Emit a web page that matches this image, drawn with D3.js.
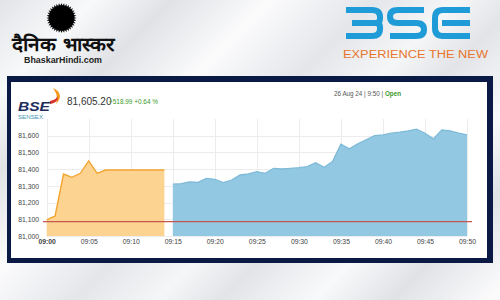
<!DOCTYPE html>
<meta charset="utf-8">
<style>
body { margin: 0; }
svg { display: block; font-family: "Liberation Sans", Arial, sans-serif; }
.tick text { fill: #444; font-size: 6.8px; }
</style>
<svg width="500" height="300"></svg>
<script src="https://cdnjs.cloudflare.com/ajax/libs/d3/7.8.5/d3.min.js"></script>
<script>

// minutes after 09:00
var preOpenMinutes = d3.range(0, 15);
var preOpenValues = [81096, 81120, 81371, 81351, 81375, 81449, 81375, 81395, 81395, 81395, 81395, 81395, 81395, 81395, 81395];
var sessionMinutes = d3.range(15, 51);
var sessionValues = [81310, 81313, 81323, 81321, 81345, 81339, 81319, 81335, 81365, 81371, 81385, 81375, 81405, 81401, 81405, 81409, 81415, 81439, 81411, 81445, 81549, 81521, 81551, 81575, 81601, 81605, 81615, 81621, 81629, 81639, 81615, 81581, 81635, 81629, 81615, 81605];
var prevClose = 81086.21;
var xTickMinutes = [0, 5, 10, 15, 20, 25, 30, 35, 40, 45, 50];
var xTickLabels = ["09:00", "09:05", "09:10", "09:15", "09:20", "09:25", "09:30", "09:35", "09:40", "09:45", "09:50"];
var yTicks = [81000, 81100, 81200, 81300, 81400, 81500, 81600];

var svg = d3.select("svg");

// background with diagonal streaks
var defs = svg.append("defs");
var bg = defs.append("linearGradient").attr("id", "bg")
    .attr("gradientUnits", "userSpaceOnUse")
    .attr("x1", 0).attr("y1", 0).attr("x2", 260).attr("y2", 260)
    .attr("spreadMethod", "repeat");
[["0", "#e2e4e8"], ["0.18", "#f8f9fa"], ["0.33", "#e0e2e6"], ["0.52", "#fbfbfc"], ["0.72", "#e4e6ea"], ["0.88", "#f5f6f7"], ["1", "#e2e4e8"]]
  .forEach(function(s) { bg.append("stop").attr("offset", s[0]).attr("stop-color", s[1]); });
svg.append("rect").attr("width", 500).attr("height", 300).attr("fill", "url(#bg)");

// Dainik Bhaskar logo
var sun = d3.range(0, 73).map(function(i) {
  return [i / 72 * 2 * Math.PI, i % 2 ? 12.5 : 15];
});
svg.append("path")
    .attr("transform", "translate(61.5,18)")
    .attr("d", d3.lineRadial()(sun) + "Z")
    .attr("fill", "#111");
svg.append("circle").attr("cx", 61.5).attr("cy", 18).attr("r", 12.5).attr("fill", "#000");
svg.append("text")
    .attr("x", 12).attr("y", 51)
    .attr("textLength", 103).attr("lengthAdjust", "spacingAndGlyphs")
    .style("font-size", "19px").style("font-weight", "bold").attr("fill", "#111")
    .text("दैनिक भास्कर");
svg.append("text")
    .attr("x", 24).attr("y", 63)
    .attr("textLength", 78).attr("lengthAdjust", "spacingAndGlyphs")
    .style("font-size", "9px").style("font-weight", "bold").attr("fill", "#222")
    .text("BhaskarHindi.com");

// BSE logo
var logo = svg.append("g").attr("transform", "translate(343,7)")
    .attr("fill", "none").attr("stroke", "#1f9bd7").attr("stroke-width", 6);
logo.append("path").attr("d", "M3,3H29Q37,3 37,10V12Q37,16 32,16H9M32,16Q37,16 37,20V22Q37,29 29,29H3");
logo.append("path").attr("transform", "translate(44,0)")
    .attr("d", "M37,3H11Q3,3 3,9.5Q3,16 11,16H29Q37,16 37,22.5Q37,29 29,29H3");
logo.append("path").attr("transform", "translate(89,0)")
    .attr("d", "M38,3H11Q3,3 3,11V21Q3,29 11,29H38M10,16H38");
svg.append("text")
    .attr("x", 343).attr("y", 57.5)
    .attr("textLength", 145).attr("lengthAdjust", "spacingAndGlyphs")
    .style("font-size", "10px").attr("fill", "#e8752c")
    .text("EXPERIENCE THE NEW");

// panel
svg.append("rect").attr("x", 7).attr("y", 76).attr("width", 486).attr("height", 187).attr("fill", "#0b1a45");
svg.append("rect").attr("x", 11).attr("y", 82).attr("width", 476).attr("height", 176).attr("fill", "#fff");

// panel header
svg.append("path")
    .attr("d", "M53,88C60,91 63,97 56,104C58,98 57,94 53,88Z")
    .attr("fill", "#f39a1e");
svg.append("path")
    .attr("d", "M50,101C55,100 57,98 57,96C59,99 57,103 50,104Z")
    .attr("fill", "#d9342b");
svg.append("text")
    .attr("x", 18).attr("y", 110.5)
    .attr("textLength", 32).attr("lengthAdjust", "spacingAndGlyphs")
    .style("font-size", "13.5px").style("font-weight", "bold").style("font-style", "italic")
    .attr("fill", "#1d2d5c")
    .text("BSE");
svg.append("text")
    .attr("x", 18).attr("y", 118.5)
    .attr("textLength", 25).attr("lengthAdjust", "spacingAndGlyphs")
    .style("font-size", "6px").attr("fill", "#3f93b0")
    .text("SENSEX");
svg.append("text")
    .attr("x", 67).attr("y", 104.5)
    .style("font-size", "10px").attr("fill", "#333")
    .text("81,605.20");
svg.append("text")
    .attr("x", 109).attr("y", 103.5)
    .attr("textLength", 49).attr("lengthAdjust", "spacingAndGlyphs")
    .style("font-size", "7px").attr("fill", "#3a9a2a")
    .text("+518.99 +0.64 %");
var stamp = svg.append("text")
    .attr("x", 334).attr("y", 96)
    .style("font-size", "6.3px").attr("fill", "#555");
stamp.append("tspan").text("26 Aug 24 | 9:50 | ");
stamp.append("tspan").attr("fill", "#3a9a2a").style("font-weight", "bold").text("Open");

// chart
var x = d3.scaleLinear().domain([0, 50]).range([46.7, 467]);
var y = d3.scaleLinear().domain([81000, 81700]).range([236, 119]);

var grid = svg.append("g").attr("stroke", "#ececec").attr("stroke-width", 1);
grid.selectAll(".gx").data(xTickMinutes).enter().append("line")
    .attr("x1", function(d) { return Math.round(x(d)) + 0.5; })
    .attr("x2", function(d) { return Math.round(x(d)) + 0.5; })
    .attr("y1", y(81700)).attr("y2", y(81000));
grid.selectAll(".gy").data(yTicks).enter().append("line")
    .attr("x1", x(0)).attr("x2", x(50))
    .attr("y1", function(d) { return Math.round(y(d)) + 0.5; })
    .attr("y2", function(d) { return Math.round(y(d)) + 0.5; });

function series(mins, vals) {
  return mins.map(function(m, i) { return { m: m, v: vals[i] }; });
}
var pre = series(preOpenMinutes, preOpenValues);
var ses = series(sessionMinutes, sessionValues);

var area = d3.area()
    .x(function(d) { return x(d.m); })
    .y0(y(81000))
    .y1(function(d) { return y(d.v); });
var line = d3.line()
    .x(function(d) { return x(d.m); })
    .y(function(d) { return y(d.v); });

svg.append("path").attr("d", area(pre)).attr("fill", "#fdd391");
svg.append("path").attr("d", line(pre)).attr("fill", "none").attr("stroke", "#f2a530").attr("stroke-width", 1.4);
svg.append("path").attr("d", area(ses)).attr("fill", "#93c8e2");
svg.append("path").attr("d", line(ses)).attr("fill", "none").attr("stroke", "#7fbbd9").attr("stroke-width", 1.3);

svg.append("line")
    .attr("x1", 43).attr("x2", 472)
    .attr("y1", y(prevClose)).attr("y2", y(prevClose))
    .attr("stroke", "#c4574f").attr("stroke-width", 1.1);

// axes
var yAxis = svg.append("g")
    .attr("transform", "translate(39,0)")
    .call(d3.axisLeft(y).tickValues(yTicks).tickSize(0).tickPadding(0).tickFormat(d3.format(",")));
yAxis.select(".domain").remove();

var xAxis = svg.append("g")
    .attr("transform", "translate(0,239)")
    .call(d3.axisBottom(x).tickValues(xTickMinutes).tickSize(0).tickPadding(0)
      .tickFormat(function(d, i) { return xTickLabels[i]; }));
xAxis.select(".domain").remove();
xAxis.selectAll(".tick text").style("font-weight", function(d) { return d === 0 ? "bold" : null; })
    .attr("fill", function(d) { return d === 0 ? "#222" : "#444"; });

</script>
